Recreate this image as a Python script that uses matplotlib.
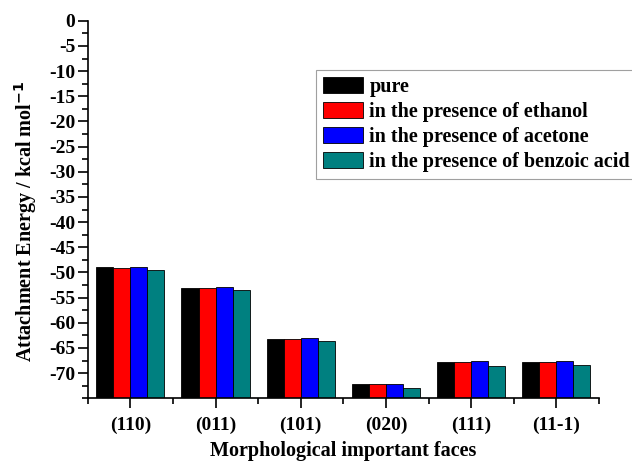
import numpy as np
import matplotlib.pyplot as plt
from matplotlib.ticker import MultipleLocator, FixedLocator

faces = ["(110)", "(011)", "(101)", "(020)", "(111)", "(11-1)"]
series = ["pure", "in the presence of ethanol", "in the presence of acetone",
          "in the presence of benzoic acid"]
pure = [-49.0, -53.0, -63.15, -72.2, -67.8, -67.8]
ethanol = [-49.1, -53.0, -63.15, -72.2, -67.8, -67.85]
acetone = [-49.0, -52.9, -62.95, -72.1, -67.6, -67.6]
benzoic = [-49.5, -53.5, -63.6, -73.0, -68.5, -68.45]
colors = ["#000000", "#ff0000", "#0000ff", "#008080"]

plt.rcParams["font.family"] = ["Liberation Serif", "DejaVu Serif"]
plt.rcParams["font.weight"] = "bold"
plt.rcParams["mathtext.default"] = "bf"
plt.rcParams["axes.unicode_minus"] = False

ymin = -75
fig = plt.figure(figsize=(6.32, 4.61), dpi=100)
ax = fig.add_axes([0.1388, 0.136, 0.809, 0.819])

x = np.arange(1, len(faces) + 1)
w = 0.2
for i, (vals, lab, c) in enumerate(zip([pure, ethanol, acetone, benzoic], series, colors)):
    vals = np.array(vals)
    ax.bar(x + (i - 1.5) * w, vals - ymin, bottom=ymin, width=w, color=c,
           edgecolor="black", linewidth=0.6, label=lab)

ax.set_xlim(0.5, 6.5)
ax.set_ylim(ymin, 0)
ax.set_yticks(np.arange(-70, 1, 5))
ax.yaxis.set_minor_locator(MultipleLocator(2.5))
ax.set_xticks(x)
ax.set_xticklabels(faces)
ax.xaxis.set_minor_locator(FixedLocator(np.arange(0.5, 6.6, 1)))
ax.tick_params(axis="both", which="major", length=7, width=1.2, labelsize=14, pad=2)
ax.tick_params(axis="both", which="minor", length=4, width=1.2)
ax.tick_params(axis="x", pad=6)

for s in ["top", "right"]:
    ax.spines[s].set_visible(False)
for s in ["left", "bottom"]:
    ax.spines[s].set_linewidth(1.2)

ax.set_ylabel("Attachment Energy / kcal mol$^{-1}$", fontsize=14.5, fontweight="bold")
ax.yaxis.set_label_coords(-0.095, 0.468)
ax.set_xlabel("Morphological important faces", fontsize=14.5, fontweight="bold")
ax.xaxis.set_label_coords(0.5, -0.112)

leg = ax.legend(loc="upper left", bbox_to_anchor=(0.4465, 0.869), fontsize=14.5,
                frameon=True, fancybox=False, edgecolor="#888888",
                handlelength=2.0, handleheight=0.85, handletextpad=0.3,
                labelspacing=0.25, borderpad=0.35, borderaxespad=0)
leg.get_frame().set_linewidth(0.8)
for t in leg.get_texts():
    t.set_fontweight("bold")

fig.savefig("out.png", dpi=100)
